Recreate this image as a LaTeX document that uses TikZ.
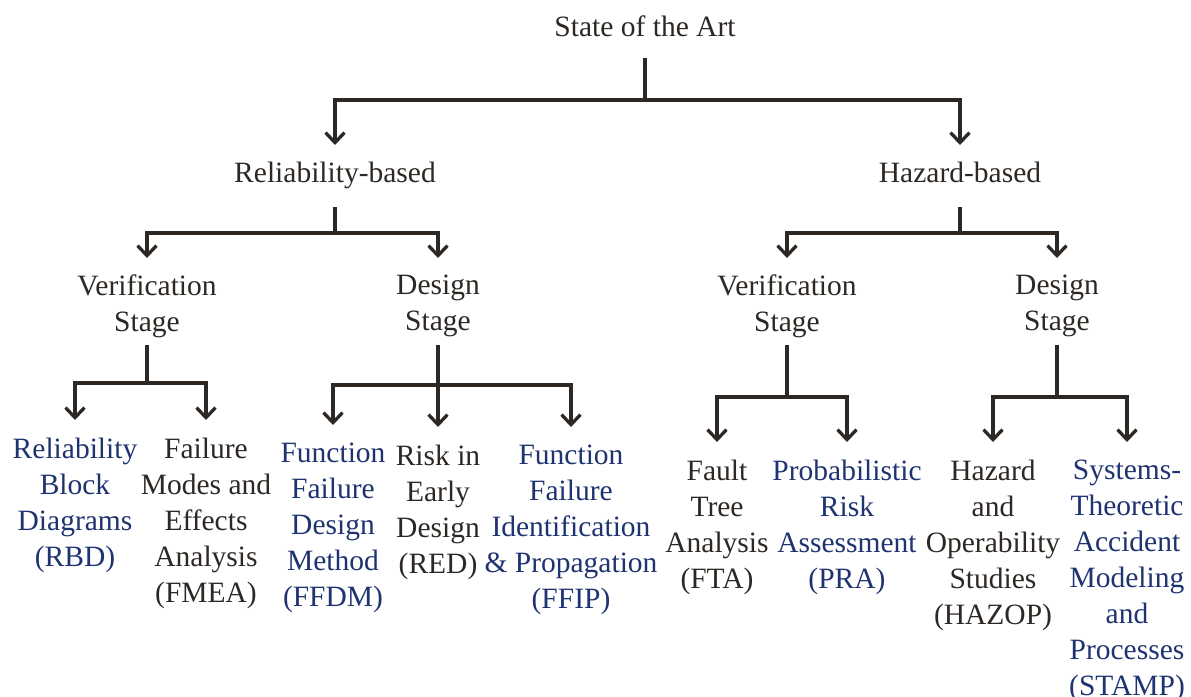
\documentclass[tikz,border=0pt]{standalone}
\usepackage{fontspec}
\setmainfont{Liberation Serif}
\usetikzlibrary{arrows.meta}
\definecolor{ink}{HTML}{2D2824}
\definecolor{navy}{HTML}{1E3370}
\begin{document}
\begin{tikzpicture}[x=1pt,y=-1pt,
  lbl/.style={font=\fontsize{29.5}{36}\selectfont, text=ink, align=center,
              inner sep=0pt, anchor=north},
  ref/.style={lbl, text=navy},
  link/.style={draw=ink, line width=3.3pt, line join=miter,
               -{Straight Barb[length=10pt,width=19pt,line width=3.3pt]}}]
\useasboundingbox (0,0) rectangle (1191,696);

% top levels
\node[lbl] (root) at (645,16) {State of the Art};
\node[lbl] (relb) at (335,162) {Reliability-based};
\node[lbl] (hazb) at (960,162) {Hazard-based};

% stages
\node[lbl] (rver) at (147,275) {Verification\\Stage};
\node[lbl] (rdes) at (438,275) {Design\\Stage};
\node[lbl] (hver) at (787,275) {Verification\\Stage};
\node[lbl] (hdes) at (1057,275) {Design\\Stage};

% methods
\node[ref] (rbd)   at (75,438)   {Reliability\\Block\\Diagrams\\(RBD)};
\node[lbl] (fmea)  at (206,438)  {Failure\\Modes and\\Effects\\Analysis\\(FMEA)};
\node[ref] (ffdm)  at (333,443)  {Function\\Failure\\Design\\Method\\(FFDM)};
\node[lbl] (red)   at (438,445)  {Risk in\\Early\\Design\\(RED)};
\node[ref] (ffip)  at (571,445)  {Function\\Failure\\Identification\\\& Propagation\\(FFIP)};
\node[lbl] (fta)   at (717,460)  {Fault\\Tree\\Analysis\\(FTA)};
\node[ref] (pra)   at (847,460)  {Probabilistic\\Risk\\Assessment\\(PRA)};
\node[lbl] (hazop) at (993,460)  {Hazard\\and\\Operability\\Studies\\(HAZOP)};
\node[ref] (stamp) at (1127,460) {Systems-\\Theoretic\\Accident\\Modeling\\and\\Processes\\(STAMP)};

% connectors: trunk down to a bus, then a branch to each child
\foreach \c in {relb,hazb}
  \draw[link] ([yshift=-42pt]root.north) -- ++(0,42) -| ([yshift=17pt]\c.north);
\foreach \c in {rver,rdes}
  \draw[link] ([yshift=-45pt]relb.north) -- ++(0,26) -| ([yshift=17pt]\c.north);
\foreach \c in {hver,hdes}
  \draw[link] ([yshift=-45pt]hazb.north) -- ++(0,26) -| ([yshift=17pt]\c.north);
\foreach \c in {rbd,fmea}
  \draw[link] ([yshift=-70pt]rver.north) -- ++(0,38) -| ([yshift=18pt]\c.north);
\foreach \c in {ffdm,red,ffip}
  \draw[link] ([yshift=-70pt]rdes.north) -- ++(0,40) -| ([yshift=18pt]\c.north);
\foreach \c in {fta,pra}
  \draw[link] ([yshift=-70pt]hver.north) -- ++(0,52) -| ([yshift=18pt]\c.north);
\foreach \c in {hazop,stamp}
  \draw[link] ([yshift=-70pt]hdes.north) -- ++(0,52) -| ([yshift=18pt]\c.north);
\end{tikzpicture}
\end{document}
